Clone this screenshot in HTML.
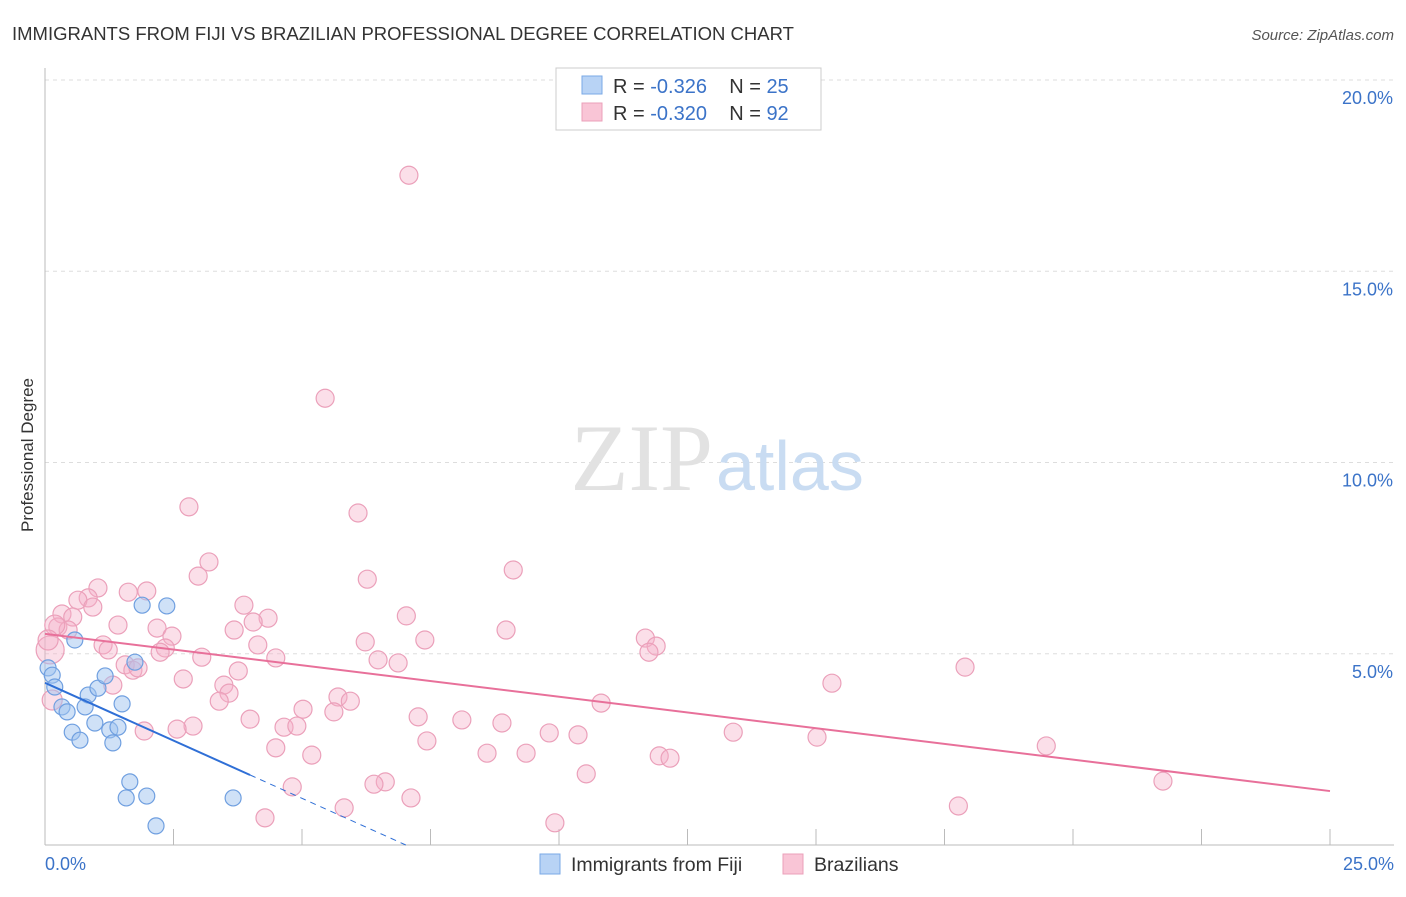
<!DOCTYPE html>
<html><head><meta charset="utf-8">
<style>
body{margin:0;background:#fff;font-family:"Liberation Sans",sans-serif;}
svg text{font-family:"Liberation Sans",sans-serif;}
</style></head>
<body>
<svg id="chart" width="1406" height="892" xmlns="http://www.w3.org/2000/svg">
<text x="12" y="40" font-size="18.5" fill="#333">IMMIGRANTS FROM FIJI VS BRAZILIAN PROFESSIONAL DEGREE CORRELATION CHART</text>
<text x="1394" y="40" font-size="15" fill="#555" text-anchor="end" font-style="italic">Source: ZipAtlas.com</text>
<text x="33" y="455" font-size="17" fill="#333" text-anchor="middle" transform="rotate(-90 33 455)">Professional Degree</text>
<g id="grid"></g>
<text x="713" y="490" font-size="95" fill="#e2e2e2" text-anchor="end" style="font-family:'Liberation Serif',serif">ZIP</text>
<text x="716" y="490" font-size="70" fill="#c9dcf2">atlas</text>
<g id="marks"></g>
<g>
<rect x="556" y="68" width="265" height="62" fill="#fff" stroke="#ccc"/>
<rect x="582" y="76" width="20" height="18" fill="#b8d3f5" stroke="#7aa8e6"/>
<rect x="582" y="103" width="20" height="18" fill="#f9c5d6" stroke="#eba0ba"/>
<text x="613" y="93" font-size="20" fill="#333">R = <tspan fill="#3b73c8">-0.326</tspan>&#160;&#160;&#160; N = <tspan fill="#3b73c8">25</tspan></text>
<text x="613" y="120" font-size="20" fill="#333">R = <tspan fill="#3b73c8">-0.320</tspan>&#160;&#160;&#160; N = <tspan fill="#3b73c8">92</tspan></text>
</g>
<g>
<rect x="540" y="854" width="20" height="20" fill="#b8d3f5" stroke="#7aa8e6"/>
<text x="571" y="871" font-size="19.5" fill="#333">Immigrants from Fiji</text>
<rect x="783" y="854" width="20" height="20" fill="#f9c5d6" stroke="#eba0ba"/>
<text x="814" y="871" font-size="19.5" fill="#333">Brazilians</text>
</g>
</svg>
<script>
const yTicks=[5,10,15,20];
const yTickLabels=["5.0%","10.0%","15.0%","20.0%"];
const xTickLabels=["0.0%","25.0%"];
const fijiX=[0.06,0.14,0.19,0.58,0.33,0.43,0.53,0.68,0.84,0.78,1.03,0.97,1.17,1.26,1.32,1.42,1.50,1.75,1.89,2.37,1.65,1.58,1.98,2.16,3.66];
const fijiY=[4.63,4.44,4.13,5.36,3.61,3.48,2.95,2.74,3.92,3.61,4.10,3.19,4.42,3.01,2.67,3.08,3.69,4.78,6.27,6.25,1.65,1.23,1.28,0.50,1.23];
const brX=[7.08,5.45,2.80,6.09,3.19,2.98,9.11,6.27,1.03,1.98,1.62,0.84,0.64,0.93,0.33,0.54,3.87,7.03,4.34,0.25,0.45,1.42,2.18,2.47,3.68,4.05,8.97,11.68,11.89,6.23,7.39,4.14,1.13,1.23,2.34,2.24,3.05,4.49,11.75,6.48,6.87,1.56,1.71,1.81,3.76,17.90,2.69,1.32,3.48,15.31,3.58,3.39,5.70,5.94,10.82,5.02,5.62,7.26,8.11,8.89,3.99,4.65,4.90,2.88,2.57,1.93,9.81,10.37,13.39,15.02,7.43,4.49,5.19,8.60,9.36,11.95,12.16,19.48,10.53,6.62,6.40,4.81,21.75,7.12,5.82,4.28,9.92,17.77,0.10,0.14,0.19,0.06];
const brY=[17.51,11.68,8.84,8.68,7.40,7.03,7.19,6.95,6.72,6.64,6.61,6.46,6.40,6.22,6.04,5.96,6.27,5.99,5.93,5.70,5.62,5.75,5.67,5.46,5.62,5.83,5.62,5.41,5.20,5.31,5.36,5.23,5.23,5.10,5.15,5.04,4.91,4.89,5.04,4.84,4.76,4.71,4.57,4.63,4.55,4.65,4.34,4.18,4.18,4.23,3.97,3.76,3.87,3.76,3.71,3.55,3.48,3.35,3.27,3.19,3.29,3.08,3.11,3.11,3.03,2.98,2.93,2.88,2.95,2.82,2.72,2.54,2.35,2.40,2.40,2.33,2.27,2.59,1.86,1.65,1.59,1.52,1.67,1.23,0.97,0.71,0.58,1.02,5.10,3.79,5.75,5.36];
const fijiTrend=[4.24,-0.604,3.99,7.02];
const brTrend=[5.52,-0.1644,25];
const NS='http://www.w3.org/2000/svg';
const X0=45,X1=1330,Y0=845,YPER=38.25;
const sx=v=>X0+v/25*(X1-X0), sy=v=>Y0-v*YPER;
function mk(tag,attrs,parent){const e=document.createElementNS(NS,tag);for(const k in attrs)e.setAttribute(k,attrs[k]);parent.appendChild(e);return e;}
const svg=document.getElementById('chart'),grid=document.getElementById('grid'),marks=document.getElementById('marks');
yTicks.forEach((t,i)=>{
 const l=mk('line',{x1:X0,x2:1394,y1:sy(t),y2:sy(t),stroke:'#ddd','stroke-dasharray':'4,4'},grid);
 
 
 const tx=mk('text',{x:1393,y:sy(t)+24,'font-size':18,fill:'#3b73c8','text-anchor':'end'},grid);
 tx.textContent=yTickLabels[i];
 
 
});
const ax=mk('line',{x1:X0,x2:X0,y1:68,y2:Y0,stroke:'#bbb'},grid);


const bx=mk('line',{x1:X0,x2:1394,y1:Y0,y2:Y0,stroke:'#bbb'},grid);


for(let i=0;i<=10;i++){
 const t=mk('line',{x1:sx(i*2.5),x2:sx(i*2.5),y1:Y0,y2:Y0-16,stroke:'#bbb'},grid);
 
 
}
[[0,'start',45],[25,'end',1394]].forEach((d,i)=>{
 const tx=mk('text',{x:d[2],y:870,'font-size':18,fill:'#3b73c8','text-anchor':d[1]},grid);
 tx.textContent=xTickLabels[i];
 
 
});
brX.forEach((v,i)=>{
 const r=i>=88?(i==88?14:10):9;
 const c=mk('circle',{cx:sx(v),cy:sy(brY[i]),r:r,fill:'rgba(246,175,200,0.4)',stroke:'#eba0ba','stroke-width':1.2},marks);
 
 
});
fijiX.forEach((v,i)=>{
 const c=mk('circle',{cx:sx(v),cy:sy(fijiY[i]),r:8,fill:'rgba(160,195,240,0.5)',stroke:'#6f9fe0','stroke-width':1.2},marks);
 
 
});
const f=x=>fijiTrend[0]+fijiTrend[1]*x;
const l1=mk('line',{x1:sx(0),y1:sy(f(0)),x2:sx(fijiTrend[2]),y2:sy(f(fijiTrend[2])),stroke:'#2f6fd6','stroke-width':2},marks);


const l2=mk('line',{x1:sx(fijiTrend[2]),y1:sy(f(fijiTrend[2])),x2:sx(fijiTrend[3]),y2:sy(f(fijiTrend[3])),stroke:'#2f6fd6','stroke-width':1,'stroke-dasharray':'6,5'},marks);


const g=x=>brTrend[0]+brTrend[1]*x;
const l3=mk('line',{x1:sx(0),y1:sy(g(0)),x2:sx(brTrend[2]),y2:sy(g(brTrend[2])),stroke:'#e8709a','stroke-width':2},marks);


</script>
</body></html>
